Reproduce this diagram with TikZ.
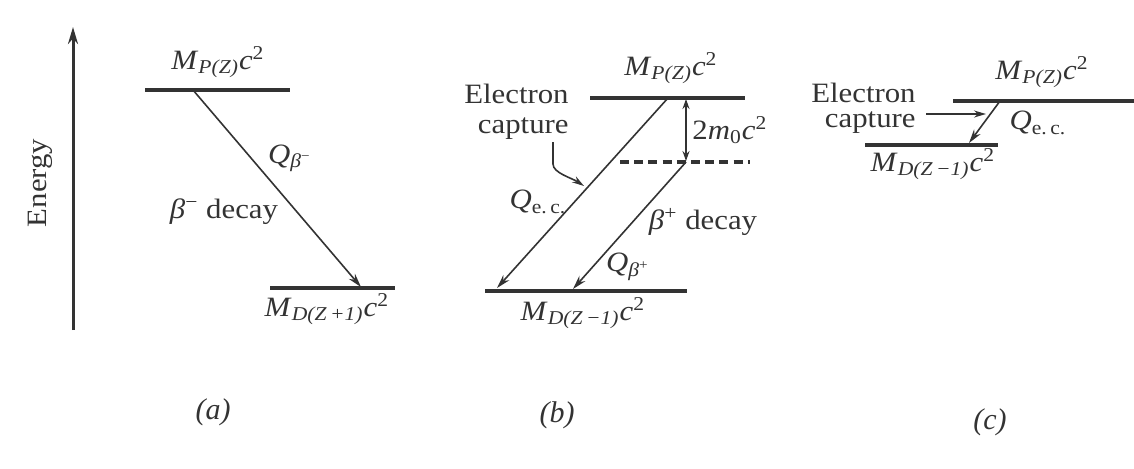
\documentclass[tikz,border=0pt]{standalone}
\usepackage{fontspec}
\setmainfont{Liberation Serif}
\usetikzlibrary{arrows.meta}
\definecolor{ink}{HTML}{333333}
\newcommand\wtext[1]{\scalebox{1.1}[1]{#1}}
\newcommand\Mlab[1]{\wtext{\textit{M}\textsubscript{\textit{#1}}\textit{c}\textsuperscript{2}}}
\tikzset{
  lbl/.style={inner sep=0pt, text=ink, font=\fontsize{14}{16}\selectfont},
  caplabel/.style={inner sep=0pt, text=ink, font=\fontsize{15}{17}\selectfont},
  level/.style={draw=ink, line width=2.2pt},
  dlevel/.style={draw=ink, line width=1.6pt, dash pattern=on 4.5pt off 2.6pt},
  trans/.style={draw=ink, line width=0.8pt, -{Stealth[length=7pt,width=4pt]}},
  dbl/.style={draw=ink, line width=0.8pt, {Stealth[length=5pt,width=3.5pt]}-{Stealth[length=5pt,width=3.5pt]}},
  eaxis/.style={draw=ink, line width=1.5pt, -{Stealth[length=8.5pt,width=5pt]}}
}
\begin{document}
\begin{tikzpicture}[x=0.5pt,y=-0.5pt]
\useasboundingbox (0,0) rectangle (1134,468);
% ---------------- (a) ----------------
\coordinate (eBot) at (73,330);
\coordinate (eTop) at (73,27);
\draw[eaxis] (eBot) -- (eTop);
\node[lbl, rotate=90] (energy) at (40,183) {\wtext{Energy}};
\coordinate (aTL) at (145,90);  \coordinate (aTR) at (290,90);
\coordinate (aBL) at (270,288); \coordinate (aBR) at (395,288);
\draw[level] (aTL) -- (aTR);
\draw[level] (aBL) -- (aBR);
\coordinate (aS) at (193,90); \coordinate (aE) at (361,287);
\draw[trans] (aS) -- (aE);
\node[lbl] (aMP) at (218,62) {\Mlab{P(Z)}};
\node[lbl] (aMD) at (327,309) {\Mlab{D(Z\,+1)}};
\node[lbl] (aQ) at (290,158) {\wtext{\textit{Q}\textsubscript{\textit{β}\textsuperscript{−}}}};
\node[lbl] (aDec) at (224,212) {\wtext{\textit{β}\textsuperscript{−} decay}};
\node[caplabel] (capA) at (213,412) {\textit{(a)}};
% ---------------- (b) ----------------
\coordinate (bTL) at (590,98);  \coordinate (bTR) at (745,98);
\coordinate (bDL) at (620,162); \coordinate (bDR) at (750,162);
\coordinate (bBL) at (485,291); \coordinate (bBR) at (687,291);
\draw[level] (bTL) -- (bTR);
\draw[dlevel] (bDL) -- (bDR);
\draw[level] (bBL) -- (bBR);
\coordinate (bEC1) at (668,98); \coordinate (bEC2) at (497,288);
\draw[trans] (bEC1) -- (bEC2);
\coordinate (bBP1) at (686,162); \coordinate (bBP2) at (573,289);
\draw[trans] (bBP1) -- (bBP2);
\coordinate (bM1) at (686,99); \coordinate (bM2) at (686,161);
\draw[dbl] (bM1) -- (bM2);
\node[lbl] (bMP) at (671,68) {\Mlab{P(Z)}};
\node[lbl] (bMD) at (583,313) {\Mlab{D(Z\,−1)}};
\node[lbl, align=right, anchor=east, font=\fontsize{14}{15}\selectfont] (bEC) at (569,112)
  {\wtext{Electron}\\\wtext{capture}};
\coordinate (bP0) at (553,142);
\coordinate (bP1) at (584,186);
\draw[draw=ink, line width=0.8pt, -{Stealth[length=6pt,width=3.5pt]}]
  (bP0) -- (553,164) .. controls (553,173) and (572,178) .. (bP1);
\node[lbl] (b2m) at (730,130) {\wtext{2\textit{m}\textsubscript{0}\textit{c}\textsuperscript{2}}};
\node[lbl] (bQec) at (538,202) {\wtext{\textit{Q}\textsubscript{e.\,c.}}};
\node[lbl] (bDec) at (703,222) {\wtext{\textit{β}\textsuperscript{+} decay}};
\node[lbl] (bQb) at (628,267) {\wtext{\textit{Q}\textsubscript{\textit{β}\textsuperscript{+}}}};
\node[caplabel] (capB) at (557,415) {\textit{(b)}};
% ---------------- (c) ----------------
\coordinate (cTL) at (953,101); \coordinate (cTR) at (1134,101);
\coordinate (cBL) at (865,145); \coordinate (cBR) at (998,145);
\draw[level] (cTL) -- (cTR);
\draw[level] (cBL) -- (cBR);
\coordinate (cEC1) at (1000,101); \coordinate (cEC2) at (969,143);
\draw[trans] (cEC1) -- (cEC2);
\node[lbl, align=right, anchor=east, font=\fontsize{14}{12.5}\selectfont] (cEC) at (916,108)
  {\wtext{Electron}\\\wtext{capture}};
\coordinate (cA1) at (926,114); \coordinate (cA2) at (986,114);
\draw[draw=ink, line width=0.8pt, -{Stealth[length=6pt,width=3.5pt]}] (cA1) -- (cA2);
\node[lbl] (cMP) at (1042,72) {\Mlab{P(Z)}};
\node[lbl] (cQ) at (1038,123) {\wtext{\textit{Q}\textsubscript{e.\,c.}}};
\node[lbl] (cMD) at (933,164) {\Mlab{D(Z\,−1)}};
\node[caplabel] (capC) at (990,422) {\textit{(c)}};
\end{tikzpicture}
\end{document}
